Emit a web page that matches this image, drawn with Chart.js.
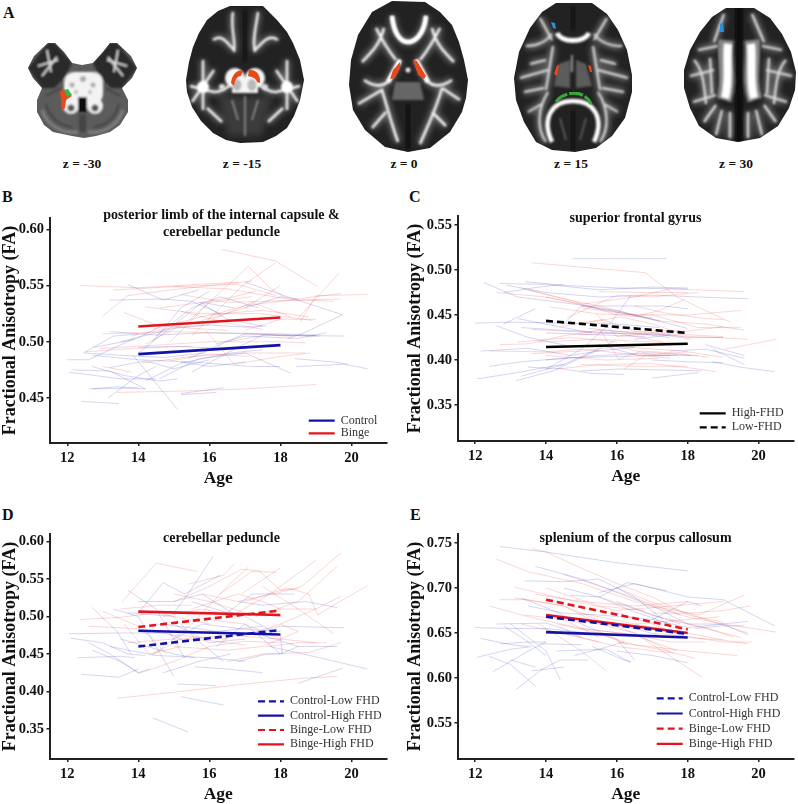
<!DOCTYPE html>
<html>
<head>
<meta charset="utf-8">
<title>Fractional anisotropy by age</title>
<script src="https://cdn.jsdelivr.net/npm/chart.js@4"></script>
<style>
    html, body { margin: 0; padding: 0; background: #fff; }
    body { position: relative; width: 798px; height: 804px; overflow: hidden; filter: blur(0.35px); }
    canvas { position: absolute; }
    #brains { position: absolute; left: 0; top: 0; }
    .letter { position: absolute; font: bold 16px "Liberation Serif", serif; color: #111; }
</style>
</head>
<body>
<svg id="brains" width="798" height="175" xmlns="http://www.w3.org/2000/svg" xmlns:xlink="http://www.w3.org/1999/xlink">
    <defs>
        <filter id="haze" x="-20%" y="-20%" width="140%" height="140%"><feGaussianBlur stdDeviation="3"/></filter>
        <filter id="soft" x="-20%" y="-20%" width="140%" height="140%"><feGaussianBlur stdDeviation="1"/></filter>
        <filter id="edge" x="-10%" y="-10%" width="120%" height="120%"><feGaussianBlur stdDeviation="0.6"/></filter>
        <clipPath id="c1"><polygon id="s1" points="28,68 34,56 48,43 55,43 64,52 72,63 82,65 93,63 103,52 110,43 117,43 131,56 137,68 132,78 122,88 128,100 128,112 120,125 110,132 96,136 84,138 72,136 53,132 44,125 37,112 37,100 42,88 33,78"/></clipPath>
        <clipPath id="c2"><polygon id="s2" points="230,6 263,6 277,20 287,32 293,43 300,60 304,80 300,100 294,116 287,128 276,136 263,142 240,143 226,140 213,133 201,121 192,107 187,92 186,80 189,62 193,47 199,33 207,20 218,11"/></clipPath>
        <clipPath id="c3"><polygon id="s3" points="392,1 425,2 440,12 452,25 459,42 464,60 468,80 466,98 462,112 450,132 430,148 408,152 385,147 365,130 353,110 349,85 351,60 358,35 372,12"/></clipPath>
        <clipPath id="c4"><polygon id="s4" points="556,3 592,3 607,14 618,30 627,50 632,75 632,92 625,118 612,136 596,148 575,152 552,150 536,142 524,122 516,100 514,78 519,52 530,28 542,12"/></clipPath>
        <clipPath id="c5"><polygon id="s5" points="726,8 754,8 770,18 782,34 791,52 796,72 795,90 789,108 778,126 760,138 738,142 716,138 699,126 690,108 684,88 684,70 690,50 700,32 712,17"/></clipPath>

        <g id="t2" fill="none">
            <path d="M233,12 C230,28 236,40 234,52 M258,12 C256,28 252,40 255,52 M213,40 C222,33 228,44 234,50 M278,40 C268,33 262,44 255,50"/>
            <path d="M190,86 L214,92 M203,60 L203,110 M192,102 L214,70 M300,86 L276,92 M287,60 L287,110 M298,102 L276,70"/>
            <path d="M214,92 C222,92 226,88 232,84 M276,92 C268,92 264,88 258,84 M207,108 L222,122 M283,108 L268,122"/>
        </g>
        <g id="t3" fill="none">
            <path d="M392,16 C394,36 402,42 408,42 C414,42 424,36 426,16"/>
            <path d="M376,28 C384,44 388,50 396,60 M440,28 C432,44 428,50 420,60 M362,62 C372,52 380,44 384,28 M454,62 C444,52 436,44 432,28"/>
            <path d="M400,60 L388,82 M416,60 L428,82 M364,80 C378,90 386,84 390,80 M452,80 C438,90 430,84 426,80"/>
            <path d="M358,104 L382,90 C388,110 392,125 398,142 M442,88 C436,110 428,125 420,144 M460,100 L442,88 M372,128 L386,112 M446,126 L432,112"/>
        </g>
        <g id="t4" fill="none">
            <path d="M540,18 L552,40 M526,46 C538,46 546,42 552,34 M607,18 L594,40 M622,46 C608,46 600,42 594,34 M520,78 L548,70 M628,78 L598,70 M530,64 L546,60 M616,64 L600,60"/>
            <path d="M553,46 L546,90 M593,46 L600,90 M548,92 C538,108 536,128 546,142 M598,92 C608,108 610,128 600,142"/>
            <path d="M528,112 L542,104 M618,112 L604,104 M524,92 L544,88 M624,92 L602,88"/>
        </g>
        <g id="t5" fill="none">
            <path d="M724,14 L714,42 M752,14 L764,42 M698,50 L718,46 M782,50 L762,46 M690,76 L714,70 M792,76 L766,70 M693,102 L716,95 M787,102 L764,95"/>
            <path d="M716,135 L722,110 M762,135 L756,110 M730,138 L730,112 M748,138 L748,112 M704,122 L716,105 M776,122 L764,105"/>
            <path d="M710,58 L712,94 M769,58 L767,94 M694,60 C702,68 704,82 706,104 M786,60 C778,68 776,82 774,104"/>
        </g>
    </defs>

    <!-- z = -30 -->
    <use href="#s1" fill="#5c5c5c" filter="url(#edge)"/>
    <g clip-path="url(#c1)">
        <g filter="url(#soft)">
            <polygon fill="#2b2b2b" points="28,68 48,43 55,43 72,63 66,76 54,88 42,88"/>
            <polygon fill="#2b2b2b" points="137,68 117,43 110,43 93,63 99,76 111,88 122,88"/>
            <path stroke="#e4e4e4" stroke-width="1.6" fill="none" d="M38,66 L58,60 M47,50 L51,72 M42,76 L57,57 M127,66 L107,60 M118,50 L114,72 M123,76 L108,57"/>
            <path stroke="#808080" stroke-width="3" fill="none" d="M42,110 C48,128 66,134 78,132 M123,110 C117,128 100,134 88,132"/>
            <path stroke="#3e3e3e" stroke-width="1.5" fill="none" d="M46,104 C50,120 62,126 72,127 M119,104 C115,120 104,126 94,127 M60,88 L46,96 M106,88 L120,96"/>
            <rect x="64" y="72" width="39" height="32" rx="10" fill="#f3f3f3"/>
            <circle cx="71" cy="106" r="8" fill="#f3f3f3"/><circle cx="95" cy="106" r="8" fill="#f3f3f3"/>
            <circle cx="72" cy="85" r="2.5" fill="#aaa"/><circle cx="93" cy="85" r="2.5" fill="#aaa"/><circle cx="83" cy="79" r="3" fill="#aaa"/><circle cx="76" cy="92" r="2" fill="#bbb"/><circle cx="90" cy="92" r="2" fill="#bbb"/>
            <rect x="78" y="97" width="9" height="15" fill="#111"/>
            <rect x="79" y="114" width="7" height="18" fill="#444"/>
            <circle cx="71" cy="108" r="3.5" fill="#555"/><circle cx="95" cy="108" r="3.5" fill="#555"/>
        </g>
    </g>
    <path filter="url(#edge)" fill="#e8491a" d="M60,92 L64,89 L72,96 L66,100 L65,108 L62,110 L61,100Z"/>
    <path filter="url(#edge)" fill="#37b54a" d="M64,90 L68,89 L72,95 L67,97Z"/>

    <!-- z = -15 -->
    <use href="#s2" fill="#202020" filter="url(#edge)"/>
    <g clip-path="url(#c2)">
        <polygon fill="#3a3a3a" points="218,96 272,96 262,136 228,136" filter="url(#haze)"/>
        <use href="#t2" stroke="#8a8a8a" stroke-width="6" opacity="0.7" filter="url(#haze)"/>
        <use href="#t2" stroke="#f4f4f4" stroke-width="2.4" filter="url(#soft)"/>
        <g filter="url(#soft)">
            <circle cx="203" cy="87" r="6" fill="#fff"/><circle cx="287" cy="87" r="6" fill="#fff"/>
            <circle cx="235" cy="78" r="10" fill="#f6f6f6"/><circle cx="255" cy="78" r="10" fill="#f6f6f6"/>
            <rect x="232" y="78" width="26" height="15" fill="#f6f6f6"/>
            <circle cx="222" cy="87" r="3" fill="#ddd"/><circle cx="265" cy="87" r="3" fill="#ddd"/>
            <ellipse cx="237" cy="85" rx="4.5" ry="6" fill="#b8b8b8"/><ellipse cx="252" cy="85" rx="4.5" ry="6" fill="#b8b8b8"/>
            <path stroke="#999" stroke-width="1.5" fill="none" d="M245,96 L245,136 M232,100 L238,120 M258,100 L252,120"/>
            <path stroke="#0f0f0f" stroke-width="2" fill="none" d="M245,10 L245,62"/>
        </g>
    </g>
    <path filter="url(#edge)" fill="#e8491a" d="M231,83 C232,74 238,69 243,71 L241,76 C237,76 235,80 234,86Z M249,70 C256,69 261,75 260,83 L257,82 C256,78 252,77 248,76Z"/>

    <!-- z = 0 -->
    <use href="#s3" fill="#202020" filter="url(#edge)"/>
    <g clip-path="url(#c3)">
        <use href="#t3" stroke="#8a8a8a" stroke-width="7" opacity="0.7" filter="url(#haze)"/>
        <use href="#t3" stroke="#f4f4f4" stroke-width="2.6" filter="url(#soft)"/>
        <g filter="url(#soft)">
            <path stroke="#fff" stroke-width="4.5" fill="none" d="M392,16 C394,36 402,42 408,42 C414,42 424,36 426,16 M400,60 L388,82 M416,60 L428,82"/>
            <circle cx="408" cy="70" r="2.5" fill="#eee"/>
            <path fill="#666" d="M395,82 L420,82 L424,100 L392,100Z"/>
            <path stroke="#0d0d0d" stroke-width="3" fill="none" d="M408,104 L408,150"/>
        </g>
    </g>
    <path filter="url(#edge)" fill="#e8491a" d="M390,79 L393,70 L400,62 L400,68 L395,78Z M413,60 L417,61 L426,76 L424,79 L418,75Z"/>

    <!-- z = 15 -->
    <use href="#s4" fill="#202020" filter="url(#edge)"/>
    <g clip-path="url(#c4)">
        <use href="#t4" stroke="#999" stroke-width="6" opacity="0.7" filter="url(#haze)"/>
        <use href="#t4" stroke="#e0e0e0" stroke-width="2" filter="url(#soft)"/>
        <g filter="url(#soft)">
            <path stroke="#fff" stroke-width="5" fill="none" d="M557,33 C562,43 584,43 589,33"/>
            <path fill="#5c5c5c" d="M558,64 L570,60 L570,88 L554,86Z M586,64 L576,60 L576,88 L592,86Z"/>
            <path stroke="#bbb" stroke-width="1.5" fill="none" d="M572,55 L572,72"/>
            <path stroke="#fff" stroke-width="4.5" fill="none" d="M552,142 C541,118 552,101 573,101 C594,101 605,118 594,142"/>
            <path stroke="#0d0d0d" stroke-width="2.5" fill="none" d="M573,6 L573,30 M573,110 L573,150"/>
            <path stroke="#666" stroke-width="1.5" fill="none" d="M560,118 L566,140 M586,118 L580,140"/>
        </g>
    </g>
    <path filter="url(#edge)" fill="none" stroke="#37a83a" stroke-width="3.2" stroke-dasharray="14 2" d="M556,102 C562,92 584,88 591,104"/>
    <path filter="url(#edge)" fill="#e8491a" d="M554,74 L557,65 L559,66 L557,76Z M588,65 L591,66 L592,72 L590,72Z"/>
    <path filter="url(#edge)" fill="#2a8fd8" d="M551,22 L555,23 L556,29 L553,28Z"/>

    <!-- z = 30 -->
    <use href="#s5" fill="#202020" filter="url(#edge)"/>
    <g clip-path="url(#c5)">
        <use href="#t5" stroke="#999" stroke-width="6" opacity="0.7" filter="url(#haze)"/>
        <use href="#t5" stroke="#ddd" stroke-width="2.2" filter="url(#soft)"/>
        <g filter="url(#soft)">
            <path stroke="#888" stroke-width="15" fill="none" d="M726,40 C724,62 730,80 724,100 M752,40 C754,62 748,80 755,100"/>
            <path stroke="#fff" stroke-width="8" fill="none" d="M728,44 C726,62 730,80 725,98 M751,44 C753,62 749,80 754,98"/>
            <path stroke="#0c0c0c" stroke-width="7" fill="none" d="M739,6 L739,142"/>
        </g>
    </g>
    <path filter="url(#edge)" fill="#2a8fd8" d="M720,24 L723,22 L724,32 L720,32Z"/>

    <g font-family="Liberation Serif, serif" font-weight="bold" font-size="13.5" fill="#111" text-anchor="middle">
        <text x="82" y="168">z = -30</text>
        <text x="242" y="168">z = -15</text>
        <text x="404" y="168">z = 0</text>
        <text x="571" y="168">z = 15</text>
        <text x="736" y="168">z = 30</text>
    </g>
</svg>

<div class="letter" style="left:3px;top:4px">A</div>
<div class="letter" style="left:2px;top:188px">B</div>
<div class="letter" style="left:409px;top:188px">C</div>
<div class="letter" style="left:2px;top:506px">D</div>
<div class="letter" style="left:410px;top:506px">E</div>

<canvas id="panelB" width="443" height="282" style="left:0;top:207px"></canvas>
<canvas id="panelC" width="471" height="277" style="left:400px;top:210px"></canvas>
<canvas id="panelD" width="443" height="275" style="left:0;top:530px"></canvas>
<canvas id="panelE" width="471" height="275" style="left:400px;top:530px"></canvas>

<script>
// tick labels
const ageTicks = [12, 14, 16, 18, 20];
const ticksB = [0.45, 0.50, 0.55, 0.60];
const ticksC = [0.35, 0.40, 0.45, 0.50, 0.55];
const ticksD = [0.35, 0.40, 0.45, 0.50, 0.55, 0.60];
const ticksE = [0.55, 0.60, 0.65, 0.70, 0.75];

// group means, age 14 and age 18
const meanAges = [14, 18];
const bControl = [0.489, 0.497];
const bBinge = [0.5135, 0.5215];
const cHigh = [0.4145, 0.418];
const cLow = [0.4435, 0.430];
const dControlLow = [0.460, 0.482];
const dControlHigh = [0.481, 0.476];
const dBingeLow = [0.486, 0.508];
const dBingeHigh = [0.5065, 0.502];
const eControlLow = [0.668, 0.649];
const eControlHigh = [0.651, 0.645];
const eBingeLow = [0.687, 0.654];
const eBingeHigh = [0.670, 0.650];

// single subjects, each one written as age, FA, age, FA ...
const bSubjectsBlue = [
    [13.7,.551,14.7,.537,15.7,.546],[12,.484,12.6,.484,13.9,.503],[12.05,.473,13.5,.467,14.5,.467],
    [12.15,.475,13.2,.474,14.2,.458],[12.4,.447,13.45,.445],[12.7,.478,13.6,.47,14.6,.465,15.1,.467],
    [12.7,.458,14,.459],[13.15,.45,14,.47,14.5,.478],[13.85,.488,15.1,.44],[12.45,.49,13.3,.505,14,.507],
    [12.75,.495,13.9,.502,14.7,.515],[13.2,.509,14.5,.506,16,.508,18,.507,19,.506],[15.2,.453,16.2,.455],
    [15.2,.454,16.4,.459],[18.45,.478,19.8,.48,20.45,.476],[17,.553,18.1,.541,19.75,.524],
    [18.2,.503,18.6,.507,19.75,.524],[14.4,.5,15.2,.53,16,.545],[14,.49,15.8,.535,16.7,.53],
    [13.2,.537,14.7,.538,15.5,.536,16.3,.525],[14.5,.505,15.5,.53,16.3,.54,17.4,.53],
    [13.5,.5,15,.512,16,.515,17,.513,17.6,.514],[12.7,.488,14,.484,15.5,.482,17.2,.478,18,.478],
    [13.2,.477,14.2,.483,15,.476,16,.484],[14.2,.465,15.2,.481,16.6,.49,17.5,.493],
    [14.6,.467,15.7,.485,17,.49,18.3,.472],[15.2,.482,16,.478,17,.482],[15.5,.473,16.5,.49,17.5,.506,19.1,.505],
    [15.4,.485,17,.507,18,.506,19.8,.505],[16.2,.498,17,.505,18.5,.503,19.3,.508],
    [12.5,.49,13.5,.488,14.7,.486,15.9,.49],[14,.495,15,.496,16.5,.494,17,.496],[12.6,.458,13.4,.46,14.2,.458],
    [17,.53,18,.54,18.5,.538],[18.4,.485,19.5,.482,19.9,.48],[15.7,.536,16.5,.52,17.5,.514]
];
const bSubjectsRed = [
    [16.35,.582,17.85,.572,19.05,.549],[12.35,.55,14,.548,16.8,.553],[13,.523,13.7,.541,14.9,.546,17.2,.554],
    [14.2,.498,15.4,.518,17.1,.567,17.7,.548,18.1,.54],[15.5,.505,16.9,.549,17.85,.57],
    [13.3,.546,15,.549,16.8,.551,17.9,.541],[18.55,.517,19,.541,20.45,.542],[18.5,.521,19.65,.561],
    [15.9,.51,16.7,.48,18,.487,18.85,.49],[13.4,.455,15,.456,17,.458,19,.462],
    [13.6,.526,14.5,.515,15.5,.512,16.5,.51],[14.2,.531,15.7,.525,17.4,.525,18.9,.519],
    [15,.549,16.5,.547,18.4,.537,19.7,.538],[15.2,.542,16.5,.535,18.7,.537,19.5,.536],
    [16,.523,17,.532,18,.536,19.7,.543],[13,.507,15,.509,17,.507,19,.505],[12.9,.494,14,.496,16,.5,18,.5,18.7,.499],
    [12.5,.491,13.8,.494,15.5,.496],[14.1,.481,15.5,.487,17,.49,18.7,.49],[13,.478,13.8,.473],
    [14.4,.511,16,.524,17.5,.528,18.8,.522],[15.6,.517,17,.53,18,.55],[14.9,.5,16,.535,17.2,.54],
    [16.1,.52,17.2,.535,18.3,.522],[16.5,.5,17.6,.506,18.3,.505],[15.2,.527,16.6,.516,17.5,.511],
    [14.9,.483,16,.489,17.1,.487],[14.6,.53,15.8,.535,16.7,.54,17.3,.545],[13.8,.505,15,.513,16,.515],
    [17,.51,18,.52,19,.52]
];
const cSubjectsBlue = [
    [14.75,.5125,17.4,.5125],[12.25,.486,13.2,.47,14.8,.462,16,.455,17.2,.443],[12.7,.485,14,.484,15.5,.478,17,.481,18,.48],
    [13.4,.487,14.5,.483,16,.48,18,.479],[12.9,.483,14,.475,15.5,.47,17,.472,19.7,.468],[12.8,.475,13.8,.481,14.5,.484],
    [12,.441,13,.442,14.5,.441,16,.44,17.2,.436],[12.8,.44,13.7,.457],[13.3,.436,14.5,.433,16,.43,17.5,.428],
    [12.6,.438,13.5,.425,14.6,.416],[13.2,.446,14.5,.436,15.3,.43],[14,.39,15,.412,15.8,.44,16.4,.472],
    [14.5,.44,15,.46,16,.46,17.3,.46,18,.457],[15,.46,15.8,.455,17,.445,18,.435],[12.15,.41,13.5,.413,14.7,.405,15.5,.41],
    [12.4,.393,13.3,.398,14.5,.402,16,.404,17.5,.405],[12.05,.379,13.2,.386,14,.392,14.5,.395],
    [13.15,.377,14.2,.388,15.4,.41,16.5,.414],[13.3,.382,14.5,.395,15.9,.42],[13.5,.392,14.5,.39,15.3,.385,16.2,.384],
    [15,.388,16.1,.39,18.4,.388],[17,.38,18.3,.386],[14,.4,15.5,.405,17,.408,18.1,.405],[18.5,.417,19.6,.405],
    [18.7,.412,19.6,.395],[18.7,.398,19.5,.392,20.45,.387],[17.5,.41,18.5,.412,19.6,.402],[16.5,.423,17.5,.428,18,.425,19,.425],
    [15.5,.417,16.6,.405,17.7,.405],[14,.43,15.5,.428,16.8,.426],[15.2,.435,16.5,.43,17.5,.425],[17,.4,18,.398,19,.397]
];
const cSubjectsRed = [
    [13.6,.508,16.8,.497,17.7,.47,19.2,.442],[12.6,.475,14,.47,15.5,.457,16.6,.449,17.2,.455,17.9,.467],
    [13.3,.48,14.5,.468,15.5,.46,16.5,.45,17.3,.443,18.5,.44,19.6,.433],[14,.47,15,.462,16.5,.47,17.5,.479,19.6,.476],
    [15,.458,16.5,.45,18,.45,19.5,.455],[14.1,.459,15.5,.451,17,.45,18.3,.436,19.5,.436],
    [12.7,.417,13.5,.418,14.5,.427,15.5,.433,17,.43,19,.426],[13.6,.434,15,.431,17,.428,18.8,.425,19.7,.423],
    [15.4,.452,16,.426,17,.43,18.1,.423],[12.4,.41,14,.409,15,.412,16.5,.406,18.3,.405],[13.6,.407,15,.41,16,.415,17.5,.411,18,.409],
    [15.5,.435,16.05,.401,16.7,.41,17.5,.408,18.6,.403],[14.3,.39,15.5,.395,17,.396,18.3,.39,18.8,.387],[16.2,.39,16.8,.405,17.5,.402],
    [19.05,.412,20.5,.423],[14.6,.447,16,.472,17,.47,18.3,.475],[15,.44,16.1,.448,17,.44,17.8,.43],[13.5,.478,14.8,.465,16,.45,17,.447],
    [16.5,.46,17.4,.452,18.5,.446,19,.445],[14.4,.437,15.6,.445,16.5,.432,17.6,.43],[15.5,.476,16.8,.475,18,.475],[17,.433,18,.432,19,.437],
    [13.8,.42,15.5,.423,17,.42,18,.418],[16,.415,17,.406,18,.409,19,.403],[14,.405,15.7,.4,17.2,.402],[15,.395,16.5,.393,18,.393],
    [14.9,.428,16,.43,17.3,.42],[13.2,.42,14.7,.425,16,.42]
];
const dSubjectsBlue = [
    [15,.505,15.4,.53,16.1,.58],[14,.505,14.7,.545,15.3,.53,16.3,.555],[14.4,.365,15.4,.346],[15.2,.393,16.4,.382],[15.1,.41,16.2,.408],
    [18.5,.411,19.75,.431],[12.4,.423,13.45,.419,14,.43],[12.1,.471,13,.465,13.7,.45,14.2,.448],[12.3,.445,13.5,.447,13.9,.445],
    [12.05,.477,13.5,.478,14.8,.478,15.2,.47],[12.6,.465,13.2,.45,14,.425],[12.7,.455,13.5,.44,14,.425,14.3,.43],[12.7,.512,13.4,.48,13.8,.45],
    [13.3,.51,14,.5,14.5,.46,15,.42],[13.7,.535,14.5,.51,15,.47,15.3,.445],[14,.52,15,.52,15.8,.53,16.8,.5],[13.7,.505,15,.5,15.5,.475,16.4,.44],
    [14.7,.425,15.7,.44,16.6,.45],[15.6,.433,16.5,.43,17.5,.425],[16.8,.44,17.6,.45,18,.45,18.5,.46],[16.2,.46,17,.49,18,.45],[17,.5,18,.475,18.05,.45],
    [15.5,.52,16.5,.505,17.2,.53,18.4,.53],[16.8,.52,17.5,.515,18.7,.52,19.6,.512],[17,.475,18,.487,19.8,.485],[17.5,.475,18.5,.46,19.6,.46],
    [17.7,.46,19.1,.445,20.45,.43],[15,.47,15.8,.49,17,.483,18,.48],[14.5,.49,15.5,.485,16.2,.48,17.5,.487],[13.2,.46,14.5,.448,16,.445,17,.44],
    [13.5,.47,15,.45,15.6,.445],[15,.49,16,.465,17,.47]
];
const dSubjectsRed = [
    [13.55,.52,14.5,.571,15.65,.56],[13.4,.391,15,.399,17,.41,18.7,.418,19.6,.42],[14,.424,15,.44,16,.46,17,.467,18,.465],
    [14.4,.448,15.5,.49,16.5,.54,17.1,.566],[15,.52,16,.54,16.9,.563,17.4,.561,18,.535,18.5,.537],[15.4,.543,16.4,.555,16.7,.57],
    [16.3,.53,17.2,.56,17.9,.559],[15.8,.53,16.8,.52,17.8,.53,18.6,.54,19.7,.585],[16.6,.5,17.7,.53,19,.575],[17.3,.5,18.5,.52,19.6,.567],
    [17,.52,18.2,.538,18.8,.53,19.05,.502,19.6,.518,20.45,.541],[16.9,.53,18,.565],[18,.49,19,.51,19.7,.527],[17.5,.54,18.5,.51,19.5,.477],
    [12.35,.496,13.5,.499,14.5,.505,16,.49],[12.6,.487,13.9,.484,15,.475,16.5,.47],[13,.507,14,.487,14.4,.47,14.8,.45],[13.6,.49,14.3,.45,15.2,.46],
    [14.4,.45,15.2,.47,16.5,.475,18,.47],[15,.46,16.5,.455,17.5,.46,18.5,.48],[16.5,.44,17.5,.45,18.8,.452,19.7,.465],[16.1,.495,17,.49,18,.47,19,.465],
    [13.7,.465,15,.47,16,.468,17,.462],[15.5,.51,16.8,.53,17.5,.52,18,.51],[14.7,.5,15.8,.51,16.8,.5,18,.51,19,.51],[15,.53,16,.52,17,.505,18,.5],
    [16,.48,17,.475,18,.49,18.5,.48],[13.5,.51,14.6,.515,15.5,.515],[17.6,.46,18.5,.465,19.3,.465]
];
const eSubjectsBlue = [
    [12.7,.746,14,.74,16,.728,18,.719],[13.7,.724,15,.71,16,.695,17,.68,18,.66,19,.66,19.7,.648],[13.4,.708,14.5,.707,15.5,.71,16.5,.69,17.3,.665],
    [14.7,.692,15.5,.69,16.3,.706,17.4,.697],[15.5,.695,16.5,.705,18,.69,19,.687,19.5,.677,20.45,.658],[13.3,.689,14.2,.675,15,.66,16,.643,16.5,.62],
    [13.5,.68,14.5,.672,15.5,.67,17,.665,18,.685,18.4,.68],[17,.665,18,.656,19,.66,19.7,.663],[18.2,.655,19,.658,19.6,.658],[12,.656,13,.655,14,.655,15.2,.65],
    [12.6,.66,14,.661,14.5,.655,15,.645],[12.15,.644,13,.637,13.5,.635],[12.7,.638,13.5,.64,14,.64],[12.05,.623,13,.632,13.6,.635],[12.4,.624,13,.615,13.7,.591],
    [12.5,.607,13.5,.63,14,.64],[13.15,.587,13.9,.61,14.4,.62,15.2,.62],[13.6,.608,14.5,.612],[13,.66,14,.63,14.4,.598],[12.8,.658,13.5,.64,14,.625],[13,.62,13.7,.612],
    [13.8,.638,15,.637],[14.3,.63,15.7,.632,16.4,.617],[14.8,.625,15.5,.632,16.2,.64],[15.3,.635,16.2,.62,16.4,.618],[16,.63,17,.625,18,.617],
    [15.7,.66,16.5,.655,17.4,.645],[16,.685,17,.67,17.8,.66],[14.5,.7,15.5,.69,16.4,.675,17.5,.66]
];
const eSubjectsRed = [
    [13.6,.744,14,.74,15,.722,16,.705,17,.69,18,.67,19,.662],[12.6,.732,13.5,.718,15,.705,16.5,.685,18,.668,19,.66,20.5,.651],[13.1,.701,14.5,.688,16,.675,17.5,.68,19,.685],
    [13.7,.693,15,.685,16.5,.68,18,.685],[12.7,.687,13.5,.687,14.5,.68,15.5,.66,16.5,.65,17.6,.627],[13.1,.689,14.5,.68,15.5,.664,16.5,.65,18.4,.601],
    [12.4,.68,13.5,.668,15,.655,16.5,.648,17.7,.63],[13.8,.66,15,.63,15.7,.608],[14.5,.65,16,.635,17.5,.628],[15.4,.65,16.5,.637,18,.63,19.4,.625],
    [15,.672,16.5,.66,18,.65,19.3,.64,19.7,.638],[15.5,.69,17,.67,18.5,.655,19.5,.645],[16,.7,17,.684,18,.672,18.5,.665,19.7,.65],[17,.68,18.3,.67,19.6,.692],
    [17,.672,18,.672,19,.675,19.75,.68],[17,.65,18,.646,19,.64,19.8,.64],[16.5,.66,18,.665,18.9,.668],[14.5,.715,15.7,.7,17,.682,17.8,.67],[15,.655,16.5,.648,17.5,.64,18.5,.64],
    [13.4,.67,14.5,.665,15.5,.645],[14,.7,15.5,.68,16.8,.675],[16,.64,17.2,.632,18.2,.622],[15.8,.675,17,.66,18,.645,19,.642],[14.3,.66,15.5,.65,16.3,.637],
    [13.3,.66,14.4,.65,15.5,.64],[17.5,.665,18.6,.655,19.3,.645]
];

const NAVY = '#1212a8';
const RED = '#e3141e';
const BLACK = '#000';
const THIN_BLUE = 'rgba(45, 45, 190, 0.2)';
const THIN_RED = 'rgba(235, 50, 50, 0.2)';
const AXIS = '#222';
const SERIF = '"Liberation Serif", serif';

function subjectSets(subjects, color) {
    return subjects.map(s => {
        const pts = [];
        for (let i = 0; i < s.length; i += 2) pts.push({ x: s[i], y: s[i + 1] });
        return { data: pts, borderColor: color, borderWidth: 1, pointRadius: 0, tension: 0, order: 2 };
    });
}

function meanSet(label, values, color, dashed) {
    return {
        label: label,
        data: meanAges.map((a, i) => ({ x: a, y: values[i] })),
        borderColor: color,
        borderWidth: 2.6,
        borderDash: dashed ? [7, 4] : [],
        pointRadius: 0,
        tension: 0,
        order: 1
    };
}

// moves the legend to the lower right corner and centres the title on the whole canvas
const panelSpots = {
    id: 'panelSpots',
    afterLayout(chart, args, opts) {
        const l = chart.legend;
        l.left = opts.x;
        l.top = opts.y;
        l.right = opts.x + l.width;
        l.bottom = opts.y + l.height;
        l.adjustHitBoxes();
        chart.titleBlock.left = 0;
        chart.titleBlock.right = chart.width;
    }
};

function drawPanel(id, cfg) {
    const means = cfg.means;
    new Chart(document.getElementById(id), {
        type: 'line',
        data: {
            datasets: means.concat(subjectSets(cfg.blue, THIN_BLUE), subjectSets(cfg.red, THIN_RED))
        },
        plugins: [panelSpots],
        options: {
            responsive: false,
            animation: false,
            events: [],
            layout: { padding: { left: 0, top: 0, bottom: 0, right: cfg.padRight } },
            scales: {
                x: {
                    type: 'linear',
                    min: 11.5,
                    max: 21,
                    afterBuildTicks: s => { s.ticks = ageTicks.map(v => ({ value: v })); },
                    afterFit: s => { s.height = 46; s.paddingLeft = 0; s.paddingRight = 0; },
                    border: { color: AXIS, width: 2 },
                    grid: { drawOnChartArea: false, color: AXIS, tickLength: 3, lineWidth: 1.5 },
                    ticks: { color: '#111', font: { family: SERIF, size: 14.5, weight: 'bold' }, padding: 4, maxRotation: 0 },
                    title: { display: true, text: 'Age', color: '#111', padding: 0, font: { family: SERIF, size: 17.5, weight: 'bold' } }
                },
                y: {
                    min: cfg.yMin,
                    max: cfg.yMax,
                    afterBuildTicks: s => { s.ticks = cfg.ticks.map(v => ({ value: v })); },
                    afterFit: s => { s.width = cfg.axisLeft; s.paddingTop = 0; s.paddingBottom = 0; },
                    border: { color: AXIS, width: 2 },
                    grid: { drawOnChartArea: false, color: AXIS, tickLength: 3, lineWidth: 1.5 },
                    ticks: {
                        color: '#111',
                        font: { family: SERIF, size: 14.5, weight: 'bold' },
                        padding: 2.5,
                        callback: v => v.toFixed(2)
                    },
                    title: {
                        display: true,
                        text: 'Fractional Anisotropy (FA)',
                        color: '#111',
                        padding: { top: cfg.yTitlePad, bottom: 0 },
                        font: { family: SERIF, size: 18, weight: 'bold' }
                    }
                }
            },
            plugins: {
                title: {
                    display: true,
                    text: cfg.title,
                    color: '#111',
                    font: { family: SERIF, size: 14, weight: 'bold', lineHeight: 1.2 },
                    padding: { top: 0, bottom: cfg.titleGap }
                },
                tooltip: { enabled: false },
                legend: {
                    position: 'chartArea',
                    align: 'start',
                    labels: {
                        boxWidth: 26,
                        boxHeight: 12,
                        padding: cfg.legendGap,
                        color: '#333',
                        font: { family: SERIF, size: 12 },
                        usePointStyle: true,
                        pointStyleWidth: 26,
                        generateLabels: () => means.map(m => ({
                            text: m.label,
                            strokeStyle: m.borderColor,
                            fillStyle: m.borderColor,
                            lineWidth: 2.2,
                            lineDash: m.borderDash,
                            pointStyle: 'line',
                            fontColor: '#333'
                        }))
                    }
                },
                panelSpots: { x: cfg.legendX, y: cfg.legendY }
            }
        }
    });
}

drawPanel('panelB', {
    title: ['posterior limb of the internal capsule &', 'cerebellar peduncle'],
    titleGap: -22.6,
    axisLeft: 49.5, padRight: 56, yTitlePad: 0,
    yMin: 0.41, yMax: 0.61, ticks: ticksB,
    blue: bSubjectsBlue, red: bSubjectsRed,
    legendX: 308.1, legendY: 207.1, legendGap: 0.6,
    means: [meanSet('Control', bControl, NAVY, false), meanSet('Binge', bBinge, RED, false)]
});
drawPanel('panelC', {
    title: 'superior frontal gyrus',
    titleGap: -10.8,
    axisLeft: 57.5, padRight: 77, yTitlePad: 5,
    yMin: 0.31, yMax: 0.56, ticks: ticksC,
    blue: cSubjectsBlue, red: cSubjectsRed,
    legendX: 297.7, legendY: 195.3, legendGap: 2,
    means: [meanSet('High-FHD', cHigh, BLACK, false), meanSet('Low-FHD', cLow, BLACK, true)]
});
drawPanel('panelD', {
    title: 'cerebellar peduncle',
    titleGap: -12.8,
    axisLeft: 49.5, padRight: 56, yTitlePad: 0,
    yMin: 0.31, yMax: 0.61, ticks: ticksD,
    blue: dSubjectsBlue, red: dSubjectsRed,
    legendX: 255.7, legendY: 163, legendGap: 2.33,
    means: [
        meanSet('Control-Low FHD', dControlLow, NAVY, true),
        meanSet('Control-High FHD', dControlHigh, NAVY, false),
        meanSet('Binge-Low FHD', dBingeLow, RED, true),
        meanSet('Binge-High FHD', dBingeHigh, RED, false)
    ]
});
drawPanel('panelE', {
    title: 'splenium of the corpus callosum',
    titleGap: -12.8,
    axisLeft: 57.5, padRight: 77, yTitlePad: 5,
    yMin: 0.51, yMax: 0.76, ticks: ticksE,
    blue: eSubjectsBlue, red: eSubjectsRed,
    legendX: 253.5, legendY: 159.1, legendGap: 3.2,
    means: [
        meanSet('Control-Low FHD', eControlLow, NAVY, true),
        meanSet('Control-High FHD', eControlHigh, NAVY, false),
        meanSet('Binge-Low FHD', eBingeLow, RED, true),
        meanSet('Binge-High FHD', eBingeHigh, RED, false)
    ]
});
</script>
</body>
</html>
